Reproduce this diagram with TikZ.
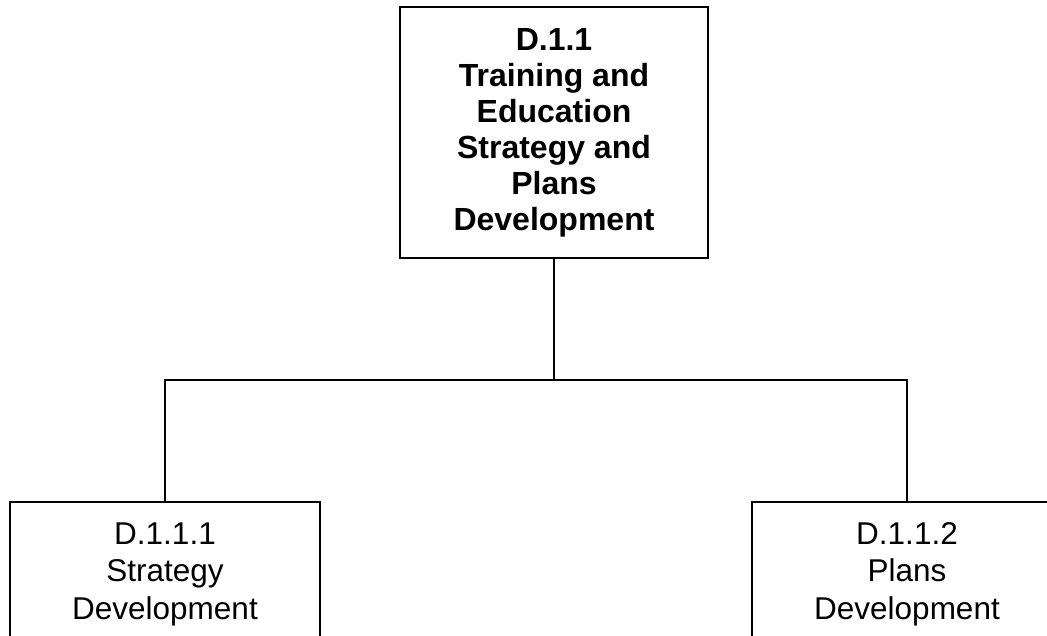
\documentclass[tikz,border=0pt]{standalone}
\usepackage{fontspec}
\setmainfont{Liberation Sans}
\begin{document}
\begin{tikzpicture}[x=1pt,y=-1pt,
  wbs/.style={draw=black,line width=1.4pt,align=center,inner sep=0pt,
    font=\fontsize{31.5}{37.5}\selectfont},
  link/.style={draw=black,line width=1.4pt}]
\useasboundingbox (0,0) rectangle (1047,636);
\clip (0,0) rectangle (1047,636);
\node[wbs,minimum width=308,minimum height=251,font=\fontsize{32}{36}\selectfont\bfseries] (top) at (554,132.5)
  {D.1.1\\Training and\\Education\\Strategy and\\Plans\\Development};
\node[wbs,minimum width=310,minimum height=144] (l) at (165,574)
  {D.1.1.1\\Strategy\\Development};
\node[wbs,minimum width=310,minimum height=144] (r) at (907,574)
  {D.1.1.2\\Plans\\Development};
\coordinate (bus) at (554,380);
\draw[link] (top.south) -- (bus);
\draw[link] (l.north) |- (bus) -| (r.north);
\end{tikzpicture}
\end{document}
